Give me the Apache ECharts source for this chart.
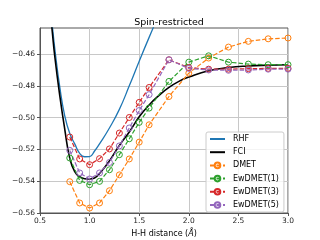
<!DOCTYPE html>
<html><head><meta charset="utf-8">
<script src="https://cdn.jsdelivr.net/npm/echarts@6/dist/echarts.min.js"></script>
<style>html,body{margin:0;padding:0;background:#fff}#c{width:320px;height:240px}</style>
</head><body><div id="c"></div>
<script>
// Smooth reference curves
const rhfX = [0.60,0.62,0.65,0.70,0.75,0.80,0.85,0.90,0.95,1.00,1.05,1.10,1.20,1.30,1.40,1.50,1.60,1.70];
const rhfY = [-0.430,-0.440,-0.457,-0.481,-0.499,-0.510,-0.5165,-0.5225,-0.5246,-0.5245,-0.521,-0.5165,-0.5065,-0.4948,-0.4800,-0.4645,-0.4495,-0.435];
const fciX = [0.60,0.62,0.65,0.70,0.75,0.80,0.85,0.90,0.95,1.00,1.05,1.10,1.20,1.30,1.40,1.50,1.60,1.70,1.80,1.90,2.00,2.20,2.40,2.60,2.80,3.00];
const fciY = [-0.431,-0.4436,-0.462,-0.4865,-0.5075,-0.5255,-0.534,-0.5372,-0.5384,-0.5386,-0.538,-0.5352,-0.5272,-0.5175,-0.5090,-0.4995,-0.4920,-0.4860,-0.4810,-0.4772,-0.4745,-0.4705,-0.4685,-0.4675,-0.4670,-0.4667];
// Embedding results
const bondLengths = [0.8,0.9,1.0,1.1,1.2,1.3,1.4,1.5,1.6,1.8,2.0,2.2,2.4,2.6,2.8,3.0];
const dmet    = [-0.5403,-0.5537,-0.5569,-0.5537,-0.5460,-0.5360,-0.5260,-0.5154,-0.5045,-0.4867,-0.4720,-0.4625,-0.4556,-0.4520,-0.4504,-0.4499];
const ewdmet1 = [-0.5254,-0.5395,-0.5422,-0.5401,-0.5328,-0.5233,-0.5133,-0.5030,-0.4940,-0.4772,-0.4651,-0.4611,-0.4651,-0.4663,-0.4667,-0.4667];
const ewdmet3 = [-0.5122,-0.5260,-0.5296,-0.5258,-0.5197,-0.5097,-0.4999,-0.4904,-0.4810,-0.4636,-0.4685,-0.4695,-0.4695,-0.4692,-0.4690,-0.4690];
const ewdmet5 = [-0.5206,-0.5348,-0.5386,-0.5348,-0.5282,-0.5178,-0.5065,-0.4955,-0.4855,-0.4636,-0.4690,-0.4700,-0.4702,-0.4700,-0.4695,-0.4695];
const yTicks = [-0.56,-0.54,-0.52,-0.50,-0.48,-0.46];
const xTicks = [0.5,1.0,1.5,2.0,2.5,3.0];

const FONT = 'DejaVu Sans';
const pairs = (xs, ys) => xs.map((x, i) => [x, ys[i]]);
const dashed = (name, color, ys) => ({
  name, type: 'line', data: pairs(bondLengths, ys),
  symbol: 'circle', symbolSize: 6,
  itemStyle: { color: 'rgba(255,255,255,0)', borderColor: color, borderWidth: 1 },
  lineStyle: { color, width: 1.2, type: [4.5, 2] },
  emphasis: { disabled: true }
});
const solid = (name, color, width, xs, ys) => ({
  name, type: 'line', data: pairs(xs, ys), smooth: true,
  symbol: 'none', showSymbol: false,
  itemStyle: { color: 'rgba(0,0,0,0)', borderWidth: 0 }, lineStyle: { color, width },
  emphasis: { disabled: true }
});

const chart = echarts.init(document.getElementById('c'), null, { renderer: 'canvas' });
chart.setOption({
  animation: false,
  backgroundColor: '#fff',
  textStyle: { fontFamily: FONT },
  title: { text: 'Spin-restricted', left: 164, top: 13, textAlign: 'center',
    textStyle: { fontFamily: FONT, fontSize: 9.5, fontWeight: 'normal', color: '#000' } },
  grid: { left: 40, right: 32, top: 28, bottom: 27, containLabel: false, outerBoundsMode: 'none',
    show: true, borderColor: '#555', borderWidth: 1, backgroundColor: 'transparent' },
  legend: {
    left: 206, top: 132, orient: 'vertical',
    itemWidth: 15, itemHeight: 7, itemGap: 5.2,
    padding: [3, 5, 3, 3],
    backgroundColor: 'rgba(255,255,255,0.8)', borderColor: '#ccc', borderWidth: 1, borderRadius: 2,
    textStyle: { fontFamily: FONT, fontSize: 8, color: '#000', padding: [0,0,0,3] },
    data: ['RHF','FCI','DMET','EwDMET(1)','EwDMET(3)','EwDMET(5)']
  },
  xAxis: {
    type: 'value', min: 0.5, max: 3.0, interval: 0.5,
    name: 'H-H distance ({i|Å})', nameLocation: 'middle', nameGap: 15,
    nameTextStyle: { fontFamily: FONT, fontSize: 8, color: '#000', rich: { i: { fontFamily: FONT, fontSize: 8, fontStyle: 'italic' } } },
    axisLine: { show: true, lineStyle: { color: '#555' } },
    axisTick: { show: true, length: 3, lineStyle: { color: '#555' } },
    axisLabel: { fontFamily: FONT, fontSize: 7.5, color: '#222', margin: 4, formatter: v => v.toFixed(1) },
    splitLine: { show: true, lineStyle: { color: '#c8c8c8', width: 1 } }
  },
  yAxis: {
    type: 'value', min: -0.56, max: -0.4436, interval: 0.02,
    name: 'Energy per atom ({i|E}{s|h})', nameLocation: 'middle', nameGap: 33, nameRotate: 90,
    nameTextStyle: { fontFamily: FONT, fontSize: 8, color: '#000', lineHeight: 10,
      rich: { i: { fontFamily: FONT, fontSize: 8, fontStyle: 'italic', lineHeight: 10 },
              s: { fontFamily: FONT, fontSize: 5.5, lineHeight: 10, verticalAlign: 'bottom', padding: [3,0,0,0] } } },
    axisLine: { show: true, lineStyle: { color: '#555' } },
    axisTick: { show: true, length: 3, lineStyle: { color: '#555' }, customValues: yTicks },
    axisLabel: { fontFamily: FONT, fontSize: 7.5, color: '#222', margin: 5, customValues: yTicks,
      formatter: v => v.toFixed(2).replace('-', '\u2212') },
    splitLine: { show: true, lineStyle: { color: '#c8c8c8', width: 1 } }
  },
  series: [
    solid('RHF', '#1f77b4', 1.3, rhfX, rhfY),
    solid('FCI', '#000000', 1.6, fciX, fciY),
    dashed('DMET', '#ff7f0e', dmet),
    dashed('EwDMET(1)', '#2ca02c', ewdmet1),
    dashed('EwDMET(3)', '#d62728', ewdmet3),
    dashed('EwDMET(5)', '#9467bd', ewdmet5)
  ]
});
</script></body></html>
